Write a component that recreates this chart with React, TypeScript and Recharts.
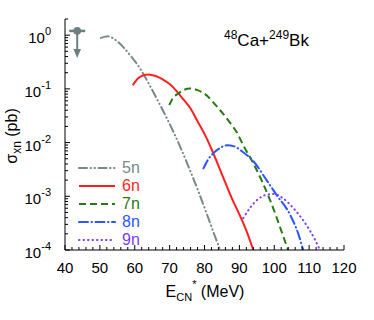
import React from "react";
import {
  ComposedChart,
  Line,
  Scatter,
  XAxis,
  YAxis,
  Legend,
  Customized,
} from "recharts";

// cross sections (E* in MeV, sigma in pb)
const E_5N = [50.3, 52.4, 54.5, 56.7, 59, 61.5, 64, 66.3, 68.7, 71.1, 73.5, 75.8, 78.2, 80.6, 82.5, 84.5];
const S_5N = [0.89, 0.95, 0.81, 0.6, 0.4, 0.24, 0.126, 0.066, 0.033, 0.0158, 0.0071, 0.0031, 0.00126, 0.00048, 0.00022, 0.0001];

const E_6N = [59.4, 61, 62.5, 64, 66, 68, 70, 72, 74, 76, 78, 80, 82, 84, 86, 88, 90, 92, 94];
const S_6N = [0.117, 0.158, 0.18, 0.186, 0.174, 0.151, 0.123, 0.091, 0.063, 0.043, 0.025, 0.0145, 0.0076, 0.0037, 0.00178, 0.00087, 0.00046, 0.00023, 0.0001];

const E_7N = [69.9, 71, 72.5, 74, 75.8, 78, 80.6, 82.5, 84.5, 87.4, 89.2, 91.2, 94, 96.5, 98.8, 100.7, 102.6, 104];
const S_7N = [0.05, 0.068, 0.082, 0.095, 0.102, 0.095, 0.076, 0.056, 0.04, 0.023, 0.0158, 0.0087, 0.0041, 0.0019, 0.00085, 0.0004, 0.000178, 0.0001];

const E_8N = [79.7, 81, 82.5, 84.4, 86.5, 88.5, 91.1, 94, 97.8, 100.7, 104.5, 106.9, 108.3];
const S_8N = [0.0033, 0.0048, 0.0063, 0.0079, 0.0089, 0.0085, 0.0066, 0.0045, 0.002, 0.00105, 0.00046, 0.0002, 0.0001];

const E_9N = [91.1, 93, 95.4, 97.8, 100, 102.6, 105.5, 108.8, 111.7, 113.1];
const S_9N = [0.00039, 0.0006, 0.00089, 0.00107, 0.0011, 0.00091, 0.0006, 0.00032, 0.000155, 0.0001];

// experimental upper limit
const LIMIT_E = [43.5];
const LIMIT_S = [1.2];

const NAMES = ["5n", "6n", "7n", "8n", "9n"];
const X_MAJOR = [40, 50, 60, 70, 80, 90, 100, 110, 120];
const Y_DECADES = [0.0001, 0.001, 0.01, 0.1, 1];

const X_TICKS = X_MAJOR.flatMap((v, i) =>
  i < X_MAJOR.length - 1 ? [v, v + 2, v + 4, v + 6, v + 8] : [v]
);
const Y_TICKS = [
  ...Y_DECADES.flatMap((d, i) =>
    i < Y_DECADES.length - 1 ? [1, 2, 3, 4, 5, 6, 7, 8, 9].map((m) => m * d) : [d]
  ),
  2,
];

const pts = (e: number[], s: number[]) => e.map((x, i) => ({ e: x, s: s[i] }));

const SERIES = [
  { data: pts(E_5N, S_5N), color: "#788989", dash: "8 3.5 0.5 3.5 0.5 3.5", cap: "round" },
  { data: pts(E_6N, S_6N), color: "#ff1f1f", dash: undefined, cap: "butt" },
  { data: pts(E_7N, S_7N), color: "#277a10", dash: "7 4", cap: "butt" },
  { data: pts(E_8N, S_8N), color: "#2b55ff", dash: "9 3.5 0.5 3.5", cap: "round" },
  { data: pts(E_9N, S_9N), color: "#7b3cff", dash: "0.5 4", cap: "round" },
];

const FONT = '"Liberation Sans", Arial, Helvetica, sans-serif';
const LIMIT_COLOR = "#6b8080";

const isX10 = (v: number) => Math.abs(v % 10) < 1e-6;
const isDecade = (v: number) => Math.abs(Math.log10(v) - Math.round(Math.log10(v))) < 1e-6;

function BottomTick({ x, y, payload }: any) {
  const major = isX10(payload.value);
  return (
    <g>
      <line x1={x} x2={x} y1={y} y2={y - (major ? 5 : 3)} stroke="#000" />
      {major && (
        <text x={x} y={y + 23} textAnchor="middle" fontSize={15} fontFamily={FONT} fill="#000">
          {payload.value}
        </text>
      )}
    </g>
  );
}

function TopTick({ x, y, payload }: any) {
  const major = isX10(payload.value);
  return <line x1={x} x2={x} y1={y} y2={y + (major ? 5 : 3)} stroke="#000" />;
}

function LeftTick({ x, y, payload }: any) {
  const major = isDecade(payload.value);
  const exp = Math.round(Math.log10(payload.value));
  return (
    <g>
      <line x1={x} x2={x + (major ? 5 : 3)} y1={y} y2={y} stroke="#000" />
      {major && (
        <text x={x - 14} y={y + 8} textAnchor="end" fontSize={15} fontFamily={FONT} fill="#000">
          <tspan>10</tspan>
          <tspan dy={-8} fontSize={11}>{exp}</tspan>
        </text>
      )}
    </g>
  );
}

function RightTick({ x, y, payload }: any) {
  const major = isDecade(payload.value);
  return <line x1={x} x2={x - (major ? 5 : 3)} y1={y} y2={y} stroke="#000" />;
}

function LimitShape({ cx, cy }: any) {
  return (
    <g fill={LIMIT_COLOR} stroke={LIMIT_COLOR}>
      <line x1={cx - 8} x2={cx + 8} y1={cy} y2={cy} strokeWidth={2.5} />
      <circle cx={cx} cy={cy} r={3.8} stroke="none" />
      <line x1={cx} x2={cx} y1={cy} y2={cy + 20} strokeWidth={2} />
      <polygon points={`${cx - 3.8},${cy + 18} ${cx + 3.8},${cy + 18} ${cx},${cy + 27}`} stroke="none" />
    </g>
  );
}

function Texts() {
  return (
    <g fontFamily={FONT} fill="#000">
      <text x={224} y={46} fontSize={17}>
        <tspan dy={-7} fontSize={12}>48</tspan>
        <tspan dy={7}>Ca+</tspan>
        <tspan dy={-7} fontSize={12}>249</tspan>
        <tspan dy={7}>Bk</tspan>
      </text>
      <text x={205} y={297} fontSize={16} textAnchor="middle">
        <tspan>E</tspan>
        <tspan dy={4} fontSize={11}>CN</tspan>
        <tspan dy={-13} fontSize={11}>*</tspan>
        <tspan dy={9}> (MeV)</tspan>
      </text>
      <text x={17} y={136} fontSize={16} textAnchor="middle" transform="rotate(-90 17 136)">
        <tspan>σ</tspan>
        <tspan dy={4} fontSize={12}>xn</tspan>
        <tspan dy={-4}> (pb)</tspan>
      </text>
    </g>
  );
}

function LegendBox() {
  return (
    <div style={{ fontFamily: FONT }}>
      {SERIES.map((s, i) => (
        <div key={NAMES[i]} style={{ display: "flex", alignItems: "center", height: 18 }}>
          <svg width={44} height={18}>
            <line
              x1={1}
              x2={37}
              y1={9}
              y2={9}
              stroke={s.color}
              strokeWidth={2}
              strokeDasharray={s.dash}
              strokeLinecap={s.cap as any}
            />
          </svg>
          <span style={{ color: s.color, fontSize: 16, lineHeight: "18px" }}>{NAMES[i]}</span>
        </div>
      ))}
    </div>
  );
}

export default function App() {
  const limit = pts(LIMIT_E, LIMIT_S);
  return (
    <div style={{ position: "absolute", left: 0, top: 0, fontFamily: FONT }}>
      <ComposedChart width={374} height={320} margin={{ top: 19, right: 30, bottom: 0, left: 0 }}>
        <XAxis
          xAxisId="b"
          dataKey="e"
          type="number"
          orientation="bottom"
          domain={[40, 120]}
          ticks={X_TICKS}
          interval={0}
          height={70}
          tickSize={0}
          tickMargin={0}
          tickLine={false}
          tick={(p: any) => <BottomTick {...p} />}
          axisLine={{ stroke: "#000" }}
          allowDataOverflow
        />
        <XAxis
          xAxisId="t"
          dataKey="e"
          type="number"
          orientation="top"
          domain={[40, 120]}
          ticks={X_TICKS}
          interval={0}
          height={0}
          tickSize={0}
          tickMargin={0}
          tickLine={false}
          tick={(p: any) => <TopTick {...p} />}
          axisLine={{ stroke: "#000" }}
          allowDataOverflow
        />
        <YAxis
          yAxisId="l"
          dataKey="s"
          type="number"
          scale="log"
          domain={[0.0001, 2]}
          ticks={Y_TICKS}
          interval={0}
          width={65}
          tickSize={0}
          tickMargin={0}
          tickLine={false}
          tick={(p: any) => <LeftTick {...p} />}
          axisLine={{ stroke: "#000" }}
          allowDataOverflow
        />
        <YAxis
          yAxisId="r"
          dataKey="s"
          type="number"
          scale="log"
          orientation="right"
          domain={[0.0001, 2]}
          ticks={Y_TICKS}
          interval={0}
          width={0}
          tickSize={0}
          tickMargin={0}
          tickLine={false}
          tick={(p: any) => <RightTick {...p} />}
          axisLine={{ stroke: "#000" }}
          allowDataOverflow
        />
        {SERIES.map((s, i) => (
          <Line
            key={NAMES[i]}
            name={NAMES[i]}
            xAxisId="b"
            yAxisId="l"
            data={s.data}
            dataKey="s"
            type="monotone"
            stroke={s.color}
            strokeWidth={2}
            strokeDasharray={s.dash}
            strokeLinecap={s.cap as any}
            dot={false}
            activeDot={false}
            isAnimationActive={false}
          />
        ))}
        <Scatter
          xAxisId="b"
          yAxisId="l"
          data={limit}
          dataKey="s"
          shape={(p: any) => <LimitShape {...p} />}
          isAnimationActive={false}
        />
        <Legend
          layout="horizontal"
          verticalAlign="middle"
          align="center"
          wrapperStyle={{ left: 78, top: 159, width: 90 }}
          content={() => <LegendBox />}
        />
        <Customized component={Texts} />
      </ComposedChart>
    </div>
  );
}
